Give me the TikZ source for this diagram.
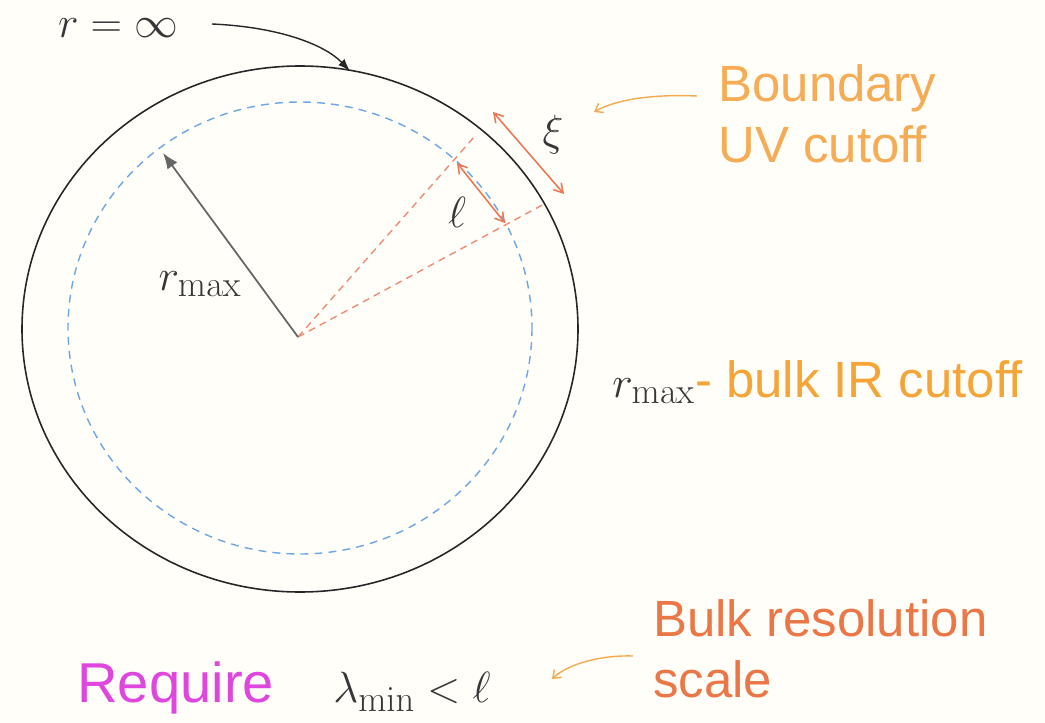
\documentclass[tikz,border=0pt]{standalone}
\usepackage[no-math]{fontspec}
\setmainfont{Liberation Sans}
\usetikzlibrary{arrows.meta}
\definecolor{bgcol}{RGB}{255,254,249}
\definecolor{bluedash}{RGB}{110,165,230}
\definecolor{reddash}{RGB}{240,140,115}
\definecolor{redarrow}{RGB}{235,120,85}
\definecolor{orangearrow}{RGB}{245,170,80}
\definecolor{uvcol}{RGB}{245,172,85}
\definecolor{ircol}{RGB}{245,165,55}
\definecolor{bulkcol}{RGB}{235,118,70}
\definecolor{reqcol}{RGB}{222,70,222}
\definecolor{mathcol}{RGB}{55,55,55}
\tikzset{
  txt/.style={inner sep=0pt, font=\fontsize{29}{35}\selectfont, align=left},
  mth/.style={inner sep=0pt, text=mathcol, font=\fontsize{30}{34}\selectfont},
  outerc/.style={draw=black!85, line width=0.9pt},
  innerc/.style={draw=bluedash, line width=0.8pt, dash pattern=on 4.5pt off 3.5pt},
  raydash/.style={draw=reddash, line width=0.8pt, dash pattern=on 4pt off 3pt},
  dblarrow/.style={draw=redarrow, line width=0.9pt, {Straight Barb[length=5pt,width=6pt]}-{Straight Barb[length=5pt,width=6pt]}},
  pointer/.style={draw=orangearrow, line width=0.8pt, -{Straight Barb[length=4pt,width=6pt]}}
}
\begin{document}
\begin{tikzpicture}[x=0.02cm,y=-0.02cm]
\fill[bgcol] (0,0) rectangle (1045,723);
\useasboundingbox (0,0) rectangle (1045,723);
% geometry
\coordinate (O) at (298,337);
\coordinate (Oc) at (300,329);
\coordinate (Ic) at (300,328);
\coordinate (R1) at (475,136);
\coordinate (R2) at (546,203);
\coordinate (L1) at (457,163);
\coordinate (L2) at (505,223);
\coordinate (X1) at (493,112);
\coordinate (X2) at (564,194);
\coordinate (Rtip) at (163,153);
\coordinate (Inftip) at (350,71);
% circles
\draw[outerc] (Oc) ellipse [x radius=278, y radius=263];
\draw[innerc] (Ic) ellipse [x radius=232, y radius=226];
% rays
\draw[raydash] (O) -- (R1);
\draw[raydash] (O) -- (R2);
\draw[dblarrow] (L1) -- (L2);
\draw[dblarrow] (X1) -- (X2);
% r_max arrow
\draw[draw=black!60, line width=1pt, -{Latex[length=9pt,width=7pt]}, fill=black!70] (O) -- (Rtip);
% labels
\node[mth] (rinf) at (118,28) {$r=\infty$};
\draw[draw=black!85, line width=0.8pt, -{Latex[length=7pt,width=5pt]}] (212,24) .. controls (280,27) and (325,45) .. (Inftip);
\node[mth] (rmax) at (200,284) {$r_{\max}$};
\node[mth] (ell) at (457,212) {$\ell$};
\node[mth] (xi) at (553,135) {$\xi$};
\node[txt, text=uvcol, anchor=west] (uv) at (718,114) {Boundary\\UV cutoff};
\coordinate (uvs) at (697,96);
\coordinate (uvt) at (594,112);
\draw[pointer] (uvs) .. controls (650,94) and (615,100) .. (uvt);
\node[txt, anchor=west, text=ircol] (ir) at (612,382) {\textcolor{mathcol}{\fontsize{30}{34}\selectfont$r_{\max}$}- bulk IR cutoff};
\node[txt, text=bulkcol, anchor=west] (bulk) at (653,649) {Bulk resolution\\scale};
\node[txt, text=reqcol, anchor=west, font=\fontsize{32}{36}\selectfont] (req) at (77,688) {Require};
\node[mth, anchor=west] (lam) at (333,692) {$\lambda_{\min}<\ell$};
\coordinate (bs) at (633,656);
\coordinate (bt) at (552,679);
\draw[pointer] (bs) .. controls (600,655) and (568,664) .. (bt);
\end{tikzpicture}
\end{document}
